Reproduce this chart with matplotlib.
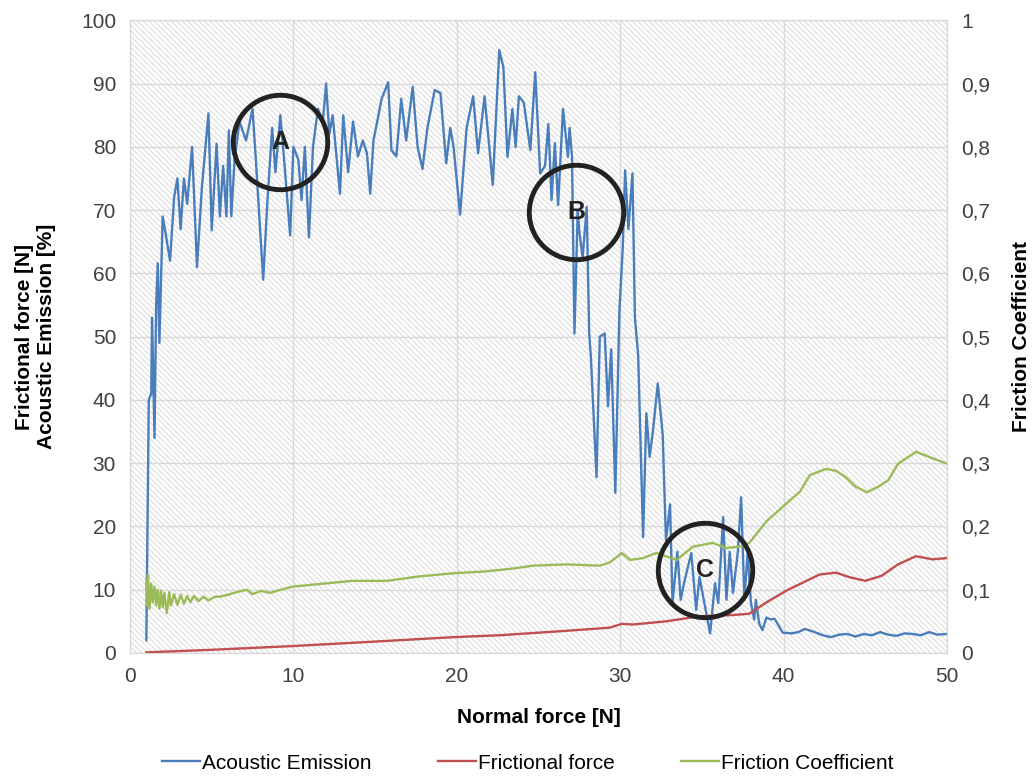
import matplotlib.pyplot as plt
from matplotlib.patches import Rectangle

plt.rcParams["font.family"] = ["Liberation Sans", "DejaVu Sans"]
plt.rcParams["hatch.linewidth"] = 0.8

# acoustic emission [%] vs normal force [N]
ae_x = [1.0, 1.15, 1.3, 1.35, 1.5, 1.6, 1.7, 1.8, 2.0, 2.2, 2.45, 2.7, 2.9, 3.1, 3.3, 3.5,
        3.8, 4.1, 4.4, 4.8, 5.0, 5.3, 5.5, 5.7, 5.9, 6.05, 6.2, 6.4, 6.7, 7.1, 7.5, 7.7,
        8.15, 8.4, 8.7, 8.9, 9.2, 9.4, 9.8, 10.0, 10.3, 10.5, 10.7, 10.95, 11.2, 11.5,
        11.8, 12.0, 12.2, 12.4, 12.85, 13.05, 13.35, 13.65, 13.95, 14.25, 14.5, 14.7,
        14.9, 15.4, 15.8, 16.0, 16.3, 16.6, 16.9, 17.3, 17.6, 17.9, 18.2, 18.65, 19.0,
        19.35, 19.6, 19.8, 20.2, 20.6, 21.0, 21.3, 21.7, 22.2, 22.6, 22.85, 23.1, 23.4,
        23.6, 23.8, 24.1, 24.5, 24.8, 25.1, 25.4, 25.6, 25.8, 26.0, 26.2, 26.5, 26.8,
        26.9, 27.05, 27.2, 27.4, 27.5, 27.7, 27.95, 28.1, 28.2, 28.55, 28.75, 29.05,
        29.25, 29.45, 29.7, 29.95, 30.15, 30.3, 30.5, 30.75, 30.9, 31.1, 31.4, 31.6,
        31.8, 32.0, 32.3, 32.6, 32.8, 33.05, 33.2, 33.5, 33.7, 33.9, 34.35, 34.65,
        34.85, 35.15, 35.5, 35.8, 36.0, 36.3, 36.5, 36.7, 36.9, 37.2, 37.4, 37.6, 37.8,
        38.0, 38.2, 38.3, 38.5, 38.7, 38.95, 39.2, 39.45, 39.95, 40.5, 40.9, 41.3,
        41.9, 42.4, 42.9, 43.4, 43.9, 44.4, 44.9, 45.4, 45.9, 46.4, 46.9, 47.4, 47.9,
        48.4, 48.9, 49.4, 50.0]
ae_y = [2.0, 40.0, 41.0, 53.0, 34.0, 55.0, 61.6, 49.0, 69.0, 66.0, 62.0, 72.0, 75.0, 67.0,
        75.0, 71.0, 80.0, 61.0, 73.6, 85.3, 66.8, 80.5, 69.0, 77.0, 69.0, 82.6, 69.0,
        78.0, 84.0, 81.0, 86.0, 78.0, 59.0, 71.0, 83.0, 76.0, 85.0, 79.0, 66.0, 80.0,
        78.0, 71.6, 80.0, 65.7, 80.0, 86.0, 84.0, 90.0, 82.0, 85.0, 72.6, 85.0, 76.0,
        84.0, 78.5, 81.0, 79.0, 72.6, 81.0, 87.6, 90.2, 79.5, 78.5, 87.6, 81.0, 89.5,
        80.0, 76.5, 83.0, 89.0, 88.5, 77.4, 83.0, 80.0, 69.3, 83.0, 88.0, 79.0, 88.0,
        74.0, 95.3, 92.6, 78.4, 86.0, 80.0, 88.0, 87.0, 79.5, 91.8, 75.8, 77.0, 83.6,
        71.6, 80.6, 70.8, 86.0, 78.4, 83.0, 78.4, 50.5, 70.0, 66.6, 62.5, 70.5, 50.5,
        47.0, 27.8, 50.0, 50.5, 39.0, 48.0, 25.3, 54.0, 63.7, 76.3, 67.0, 75.8, 53.0,
        47.0, 18.3, 37.9, 31.0, 35.0, 42.6, 34.5, 17.8, 23.5, 7.9, 16.0, 8.4, 11.0,
        15.8, 6.8, 12.0, 7.9, 3.1, 11.0, 7.9, 21.5, 8.4, 16.0, 9.5, 16.0, 24.6, 8.4,
        16.0, 7.9, 5.3, 8.4, 4.7, 3.6, 5.6, 5.3, 5.4, 3.2, 3.1, 3.3, 3.8, 3.3, 2.8, 2.5,
        2.9, 3.0, 2.6, 3.0, 2.8, 3.3, 2.9, 2.7, 3.1, 3.0, 2.8, 3.3, 2.9, 3.0]

# frictional force [N]
ff_x = [1.0, 5.0, 10.0, 15.0, 19.8, 22.6, 26.7, 29.35, 30.1, 30.8, 32.8, 34.85, 36.9,
        37.9, 38.95, 40.2, 41.0, 42.2, 43.2, 44.0, 45.0, 46.0, 47.0, 48.1, 49.1, 50.0]
ff_y = [0.1, 0.5, 1.1, 1.8, 2.5, 2.8, 3.5, 4.0, 4.6, 4.5, 5.0, 5.8, 6.0, 6.2, 8.0, 9.9,
        10.9, 12.4, 12.7, 12.0, 11.4, 12.2, 14.0, 15.3, 14.8, 15.0]

# friction coefficient [-]
fc_x = [1.0, 1.05, 1.1, 1.2, 1.3, 1.4, 1.5, 1.6, 1.7, 1.8, 1.9, 2.0, 2.1, 2.25, 2.4, 2.5,
        2.7, 2.9, 3.1, 3.3, 3.5, 3.7, 3.9, 4.2, 4.5, 4.8, 5.2, 5.5, 6.0, 6.5, 7.15, 7.5,
        8.0, 8.6, 9.2, 10.0, 11.6, 13.6, 15.7, 17.7, 19.8, 21.8, 23.6, 24.65, 26.7,
        28.75, 29.35, 30.1, 30.6, 31.4, 32.2, 33.45, 34.45, 35.65, 36.5, 37.3, 37.9,
        38.95, 40.2, 41.0, 41.6, 42.6, 43.2, 43.8, 44.4, 45.1, 45.8, 46.4, 47.0, 48.1,
        48.9, 50.0]
fc_y = [0.115, 0.075, 0.124, 0.070, 0.110, 0.080, 0.105, 0.075, 0.100, 0.070, 0.098,
        0.072, 0.095, 0.063, 0.096, 0.075, 0.093, 0.076, 0.092, 0.078, 0.090, 0.080,
        0.090, 0.082, 0.089, 0.083, 0.089, 0.089, 0.092, 0.096, 0.100, 0.093, 0.098,
        0.095, 0.100, 0.105, 0.109, 0.114, 0.114, 0.121, 0.126, 0.129, 0.134, 0.138,
        0.140, 0.138, 0.143, 0.158, 0.147, 0.150, 0.158, 0.147, 0.168, 0.174, 0.166,
        0.168, 0.174, 0.208, 0.237, 0.255, 0.281, 0.291, 0.288, 0.278, 0.263, 0.254,
        0.263, 0.273, 0.299, 0.318, 0.310, 0.299]

marks = ["A", "B", "C"]
mark_x = [9.2, 27.3, 35.2]
mark_y = [80.8, 69.7, 13.1]

fig = plt.figure(figsize=(10.35, 7.82), dpi=100)
ax = fig.add_axes([0.1256, 0.165, 0.7894, 0.809])
ax.set_facecolor("white")
ax.add_patch(Rectangle((0, 0), 1, 1, transform=ax.transAxes, facecolor="none",
                       edgecolor="#dcdcdc", hatch="\\\\\\\\\\\\", linewidth=0, zorder=0))
ax.grid(True, color="#d9d9d9", linewidth=1.0, zorder=0.5)
ax.set_axisbelow(True)

ax.plot(ae_x, ae_y, color="#4a7ebb", linewidth=1.7, label="Acoustic Emission", zorder=3)
ax.plot(ff_x, ff_y, color="#c0504d", linewidth=1.7, label="Frictional force", zorder=3)

ax2 = ax.twinx()
ax2.plot(fc_x, fc_y, color="#9bbb59", linewidth=1.7, label="Friction Coefficient")

ax.set_xlim(0, 50)
ax.set_ylim(0, 100)
ax2.set_ylim(0, 1)
ax.set_xticks(range(0, 51, 10))
ax.set_yticks(range(0, 101, 10))
ax2.set_yticks([i / 10 for i in range(11)])
ax2.set_yticklabels(["0"] + [f"0,{i}" for i in range(1, 10)] + ["1"])

for a in (ax, ax2):
    a.tick_params(length=0, labelsize=15, colors="#404040", pad=10)
    for s in a.spines.values():
        s.set_color("#d9d9d9")

ax.set_xlabel("Normal force [N]", fontsize=15, fontweight="bold", labelpad=16)
ax.set_ylabel("Frictional force [N]\nAcoustic Emission [%]", fontsize=15,
              fontweight="bold", labelpad=18, linespacing=1.2)
ax2.set_ylabel("Friction Coefficient", fontsize=15, fontweight="bold", labelpad=16)

for m, mx, my in zip(marks, mark_x, mark_y):
    ax2.plot([mx], [my / 100], marker="o", markersize=68, markerfacecolor="none",
             markeredgecolor="#222222", markeredgewidth=3.5, zorder=5)
    ax2.text(mx, my / 100, m, ha="center", va="center", fontsize=18,
             fontweight="bold", color="#222222", zorder=6)

h1, l1 = ax.get_legend_handles_labels()
h2, l2 = ax2.get_legend_handles_labels()
fig.legend(h1 + h2, l1 + l2, loc="lower center", bbox_to_anchor=(0.51, -0.012), ncol=3,
           frameon=False, fontsize=15, handlelength=1.8, handletextpad=0.1,
           columnspacing=3.2)

fig.savefig("out.png", dpi=100)
